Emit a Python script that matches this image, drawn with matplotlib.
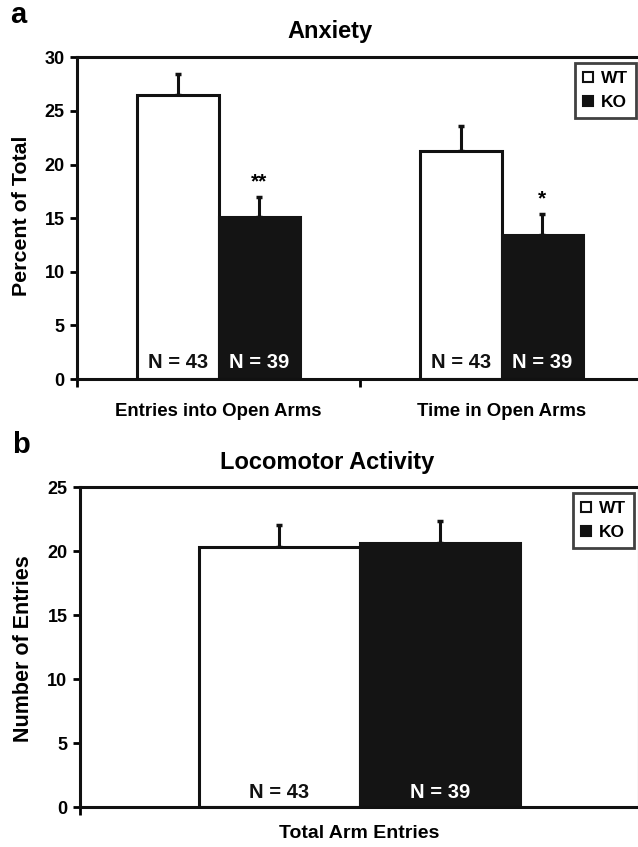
import matplotlib
matplotlib.use("Agg")
import matplotlib.pyplot as plt
import numpy as np
from matplotlib.lines import Line2D

plt.rcParams['font.family'] = ['Liberation Sans', 'DejaVu Sans']
plt.rcParams['font.weight'] = 'bold'

# ---- data ----
groups = ["WT", "KO"]
categories_a = ["Entries into Open Arms", "Time in Open Arms"]
wt_a = [26.5, 21.3]
wt_a_err = [1.95, 2.3]
ko_a = [15.1, 13.4]
ko_a_err = [1.85, 2.0]
stars_a = ["**", "*"]
n_labels = ["N = 43", "N = 39"]

categories_b = ["Total Arm Entries"]
wt_b = [20.35]
wt_b_err = [1.7]
ko_b = [20.65]
ko_b_err = [1.7]

yticks_a = [0, 5, 10, 15, 20, 25, 30]
yticks_b = [0, 5, 10, 15, 20, 25]

W, H = 638, 847
fig = plt.figure(figsize=(W / 100, H / 100), dpi=100)
KO_COLOR = "#141414"
BW = 0.287


def style_axes(ax, ylim, yticks, cats, catsize, pad):
    ax.set_ylim(*ylim)
    ax.set_xlim(-0.5, len(cats) - 0.5)
    ax.set_yticks(yticks)
    ax.set_xticks(range(len(cats)))
    ax.set_xticklabels(cats, fontsize=catsize, fontweight='bold')
    ax.set_xticks(np.arange(-0.5, len(cats), 1.0), minor=True)
    ax.tick_params(axis='x', which='major', length=0, pad=pad)
    ax.tick_params(axis='x', which='minor', length=6, width=2, direction='out')
    ax.tick_params(axis='y', length=5, width=2, direction='out', labelsize=13, pad=4)
    for lab in ax.get_yticklabels():
        lab.set_fontweight('bold')
    for sp in ax.spines.values():
        sp.set_linewidth(2.2)
        sp.set_color('#111111')


def draw_bars(ax, wt, wterr, ko, koerr, nlab_y):
    x = np.arange(len(wt))
    ax.bar(x - BW / 2, wt, BW, color='white', edgecolor='#111111', linewidth=2.2, zorder=2)
    ax.bar(x + BW / 2, ko, BW, color=KO_COLOR, edgecolor=KO_COLOR, linewidth=2.2, zorder=2)
    ax.errorbar(x - BW / 2, wt, yerr=[np.zeros(len(wt)), wterr], fmt='none', ecolor='#111111',
                elinewidth=2.2, capsize=2.2, capthick=2.5, zorder=1)
    ax.errorbar(x + BW / 2, ko, yerr=[np.zeros(len(ko)), koerr], fmt='none', ecolor='#111111',
                elinewidth=2.2, capsize=2.2, capthick=2.5, zorder=1)
    for xi in x:
        ax.text(xi - BW / 2, nlab_y, n_labels[0], ha='center', va='center', fontsize=14.5,
                fontweight='bold', color='#111111', zorder=3)
        ax.text(xi + BW / 2, nlab_y, n_labels[1], ha='center', va='center', fontsize=14.5,
                fontweight='bold', color='white', zorder=3)
    return x


def add_legend(ax, loc_box):
    handles = [Line2D([], [], marker='s', linestyle='none', markersize=7, markerfacecolor='white',
                      markeredgecolor='#111111', markeredgewidth=1.5),
               Line2D([], [], marker='s', linestyle='none', markersize=7, markerfacecolor='#111111',
                      markeredgecolor='#111111', markeredgewidth=1.5)]
    leg = ax.legend(handles, groups, loc='upper right', bbox_to_anchor=loc_box,
                    bbox_transform=fig.transFigure, frameon=True, fancybox=False,
                    prop={'weight': 'bold', 'size': 12.5}, handlelength=0.6, handletextpad=0.45,
                    borderpad=0.45, labelspacing=0.55, borderaxespad=0)
    leg.get_frame().set_edgecolor('#111111')
    leg.get_frame().set_linewidth(2)
    return leg


# ---- panel a ----
axa = fig.add_axes([77 / W, 1 - 379 / H, (643 - 77) / W, (379 - 57.3) / H])
xa = draw_bars(axa, wt_a, wt_a_err, ko_a, ko_a_err, 1.55)
style_axes(axa, (0, 30), yticks_a, categories_a, 13.4, 17)
for xi, s, top, e in zip(xa, stars_a, ko_a, ko_a_err):
    axa.annotate(s, (xi + BW / 2, top + e), xytext=(0, 4), textcoords='offset points',
                 ha='center', va='bottom', fontsize=15, fontweight='bold')
add_legend(axa, (635.5 / W, 1 - 62.7 / H))

# ---- panel b ----
axb = fig.add_axes([80 / W, 1 - 807 / H, 559 / W, (807 - 487) / H])
draw_bars(axb, wt_b, wt_b_err, ko_b, ko_b_err, 1.13)
style_axes(axb, (0, 25), yticks_b, categories_b, 14, 13)
add_legend(axb, (634 / W, 1 - 492.7 / H))

# axis labels
fig.text(21.5 / W, 1 - 215.5 / H, "Percent of Total", rotation=90, ha='center', va='center',
         fontsize=15.4, fontweight='bold')
fig.text(24 / W, 1 - 648.5 / H, "Number of Entries", rotation=90, ha='center', va='center',
         fontsize=15.5, fontweight='bold')

# titles and panel letters
fig.text(330 / W, 1 - 31.5 / H, "Anxiety", ha='center', va='center', fontsize=17, fontweight='bold')
fig.text(327.5 / W, 1 - 462 / H, "Locomotor Activity", ha='center', va='center', fontsize=17,
         fontweight='bold')
fig.text(18.5 / W, 1 - 15 / H, "a", ha='center', va='center', fontsize=21, fontweight='bold')
fig.text(20.5 / W, 1 - 445 / H, "b", ha='center', va='center', fontsize=21, fontweight='bold')

fig.savefig("out.png", dpi=100)
